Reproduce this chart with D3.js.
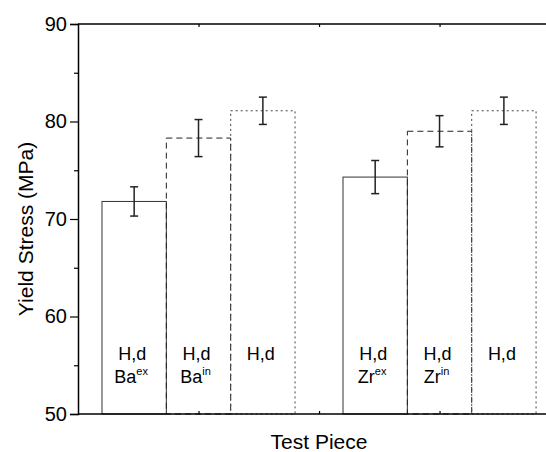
<!DOCTYPE html>
<html>
<head>
<meta charset="utf-8">
<script src="https://cdn.jsdelivr.net/npm/d3@7"></script>
<style>
  body { margin: 0; background: #fff; }
  text { font-family: "Liberation Sans", Arial, sans-serif; fill: #000; }
</style>
</head>
<body>
<svg width="546" height="452"></svg>
<script>
// yield stress per test piece, two groups of three bars
const groups = [1, 3];                     // group centres on the x axis
const offsets = [-0.534, 0, 0.534];        // bar position within a group
const means = [71.8, 78.3, 81.1, 74.3, 79.0, 81.1];
const errors = [1.5, 1.9, 1.4, 1.7, 1.6, 1.4];
const topLabels = ['H,d', 'H,d', 'H,d', 'H,d', 'H,d', 'H,d'];
const baseLabels = ['Ba', 'Ba', '', 'Zr', 'Zr', ''];
const supLabels = ['ex', 'in', '', 'ex', 'in', ''];
const yTicks = [50, 60, 70, 80, 90];
const xTicks = [1, 2, 3];

const svg = d3.select('svg');
const x = d3.scaleLinear().domain([0, 3.9]).range([78, 548]);
const y = d3.scaleLinear().domain([50, 90]).range([414, 24]);
const bw = x(0.534) - x(0);
const dashes = ['none', '6,4', '2,3'];
const strokes = ['#333', '#222', '#444'];

const bars = [];
groups.forEach((g, gi) => offsets.forEach((o, k) => {
  const i = gi * 3 + k;
  bars.push({ cx: g + o, v: means[i], e: errors[i], k,
    t: topLabels[i], b: baseLabels[i], s: supLabels[i] });
}));

// bars
svg.selectAll('rect.bar').data(bars).enter().append('rect')
  .attr('x', d => x(d.cx) - bw / 2).attr('width', bw)
  .attr('y', d => y(d.v)).attr('height', d => y(50) - y(d.v))
  .attr('fill', 'none').attr('stroke', d => strokes[d.k])
  .attr('stroke-width', 1).attr('stroke-dasharray', d => dashes[d.k]);

// error bars
const eb = svg.selectAll('g.err').data(bars).enter().append('g')
  .attr('stroke', '#222').attr('stroke-width', 1.5);
eb.append('line').attr('x1', d => x(d.cx)).attr('x2', d => x(d.cx))
  .attr('y1', d => y(d.v + d.e)).attr('y2', d => y(d.v - d.e));
eb.append('line').attr('x1', d => x(d.cx) - 4).attr('x2', d => x(d.cx) + 4)
  .attr('y1', d => y(d.v + d.e)).attr('y2', d => y(d.v + d.e));
eb.append('line').attr('x1', d => x(d.cx) - 4).attr('x2', d => x(d.cx) + 4)
  .attr('y1', d => y(d.v - d.e)).attr('y2', d => y(d.v - d.e));

// labels inside bars
svg.selectAll('text.top').data(bars).enter().append('text')
  .attr('x', d => x(d.cx) - 2).attr('y', 360).attr('text-anchor', 'middle')
  .attr('font-size', 18).text(d => d.t);
const bl = svg.selectAll('text.base').data(bars.filter(d => d.b)).enter().append('text')
  .attr('x', d => x(d.cx) - 3).attr('y', 383).attr('text-anchor', 'middle')
  .attr('font-size', 18);
bl.append('tspan').text(d => d.b);
bl.append('tspan').attr('font-size', 11).attr('dy', -8).text(d => d.s);

// y axis
const yAxis = svg.append('g').attr('transform', `translate(${x(0)},0)`)
  .call(d3.axisLeft(y).tickValues(yTicks).tickSize(8).tickPadding(3).tickFormat(d3.format('d')));
yAxis.selectAll('text').attr('font-size', 20).style('font-family', '"Liberation Sans", Arial, sans-serif');
svg.append('g').attr('transform', `translate(${x(0)},0)`)
  .call(d3.axisLeft(y).tickValues([55, 65, 75, 85]).tickSize(4).tickFormat(''))
  .select('.domain').remove();

// bottom and top axes
const xBottom = svg.append('g').attr('transform', `translate(0,${y(50)})`)
  .call(d3.axisTop(x).tickValues(xTicks).tickSize(3).tickFormat(''));
const xTop = svg.append('g').attr('transform', `translate(0,${y(90)})`)
  .call(d3.axisBottom(x).tickValues(xTicks).tickSize(3).tickFormat(''));
svg.selectAll('.domain').attr('stroke', '#000').attr('stroke-width', 1.5);
[xBottom, xTop].forEach(a => a.select('.domain').attr('d', `M${x(0)},0H${x(3.9)}`));
svg.selectAll('.tick line').attr('stroke', '#000').attr('stroke-width', 1.2);

// axis titles
svg.append('text').attr('x', x(2)).attr('y', 449).attr('text-anchor', 'middle')
  .attr('font-size', 21).text('Test Piece');
svg.append('text').attr('transform', `translate(33,229) rotate(-90)`)
  .attr('text-anchor', 'middle').attr('font-size', 21).text('Yield Stress (MPa)');
</script>
</body>
</html>
